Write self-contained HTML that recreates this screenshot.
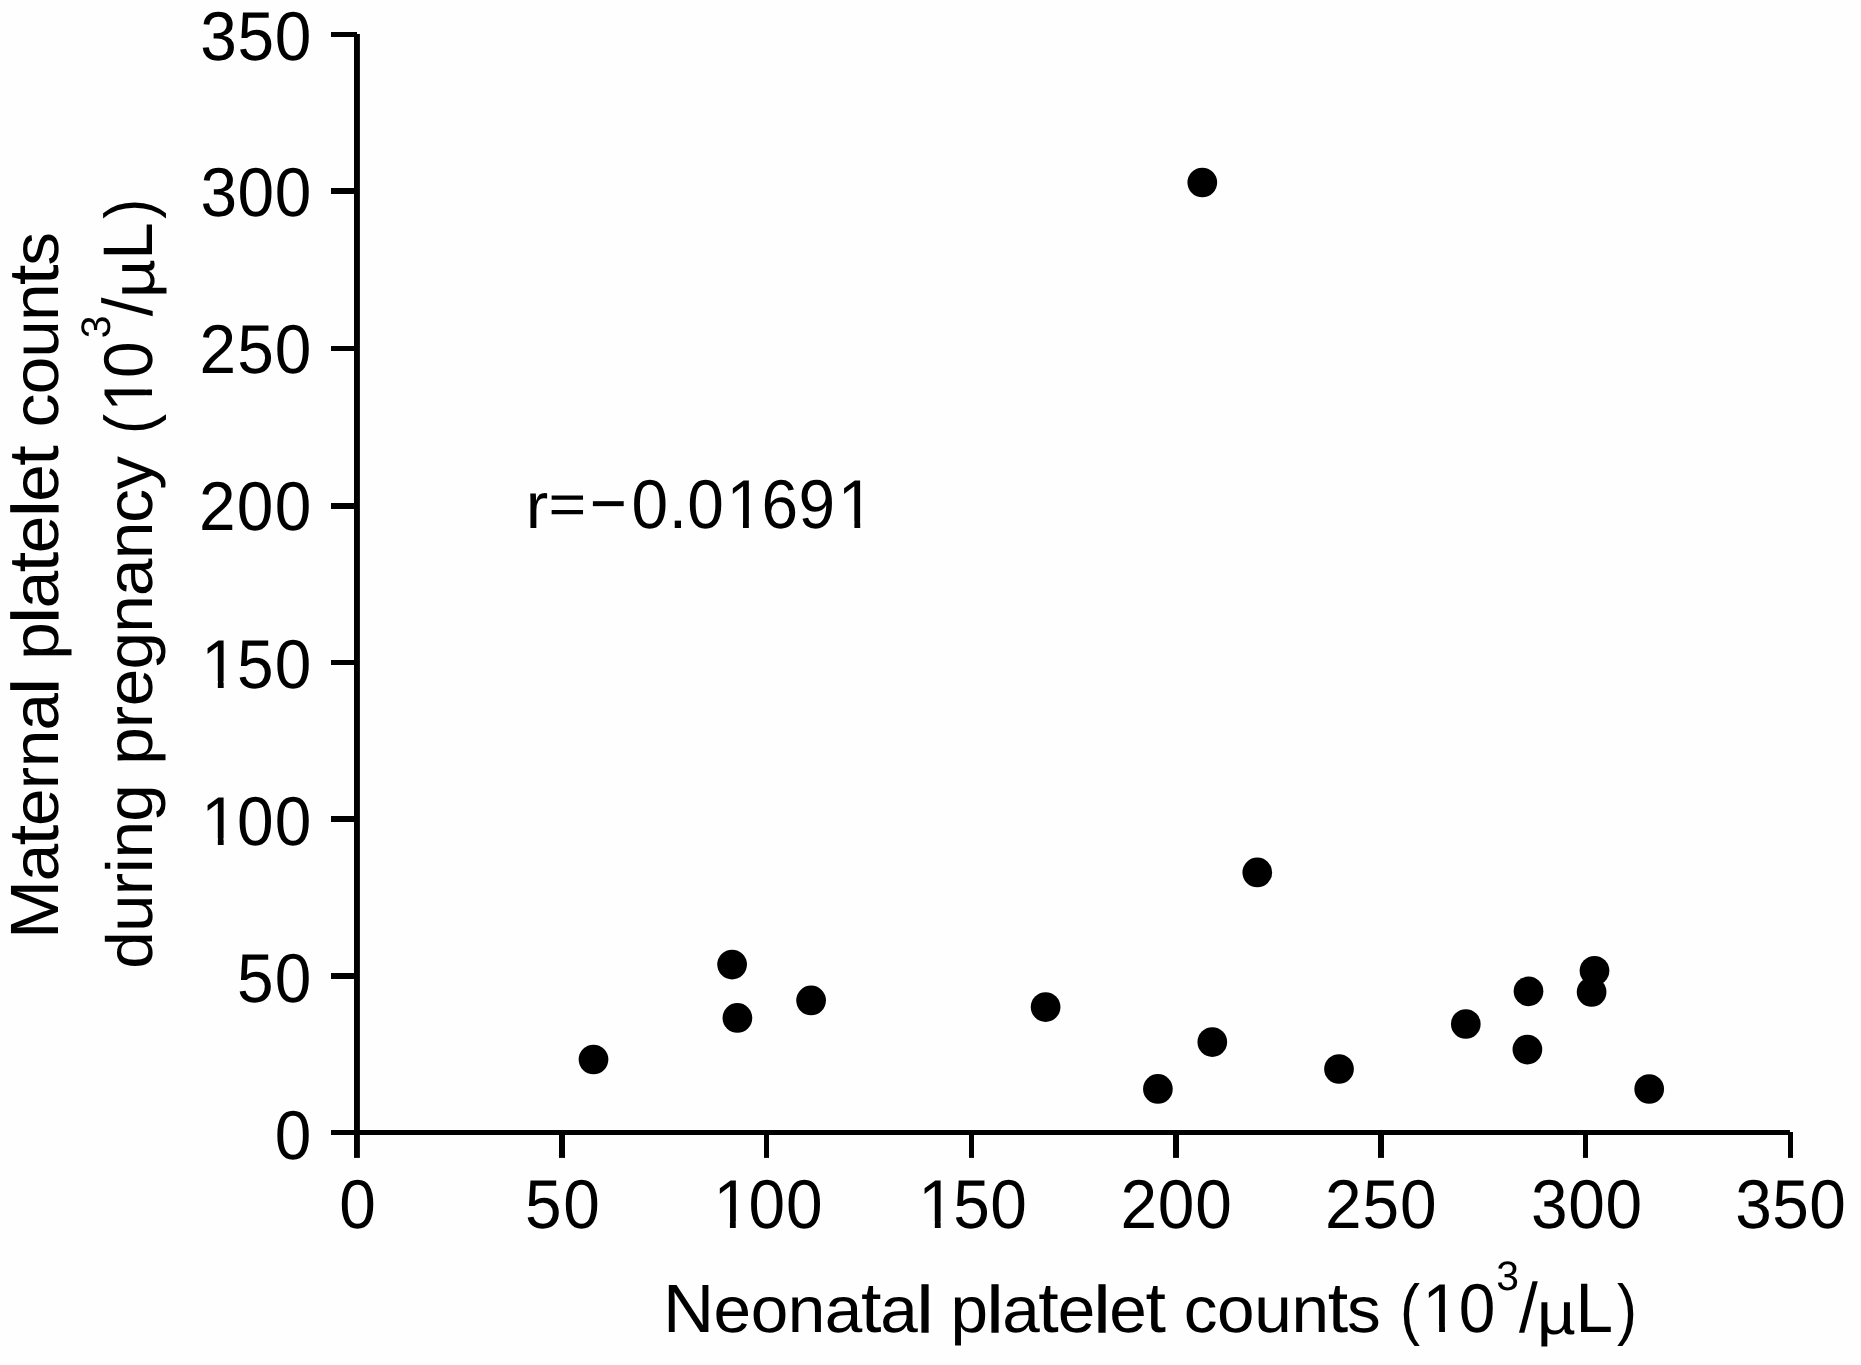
<!DOCTYPE html>
<html><head><meta charset="utf-8"><title>Maternal vs neonatal platelet counts</title><style>
html,body{margin:0;padding:0;background:#fefefe;overflow:hidden;}
svg{display:block;filter:grayscale(100%);}
text{font-family:"Liberation Sans",sans-serif;fill:#000;text-rendering:geometricPrecision;}
</style></head><body>
<svg width="1861" height="1365" viewBox="0 0 1861 1365">
<defs><clipPath id="c0"><path clip-rule="evenodd" d="M-2000 -2000H4000V2000H-2000ZM-2.50 -6.59H11.83V1.32H-2.50ZM17.80 -6.59H30.45V1.32H17.80Z"/></clipPath><clipPath id="c1"><path clip-rule="evenodd" d="M-2000 -2000H4000V2000H-2000ZM-2.50 -6.59H11.83V1.32H-2.50ZM17.80 -6.59H30.45V1.32H17.80Z"/></clipPath><clipPath id="c2"><path clip-rule="evenodd" d="M-2000 -2000H4000V2000H-2000ZM-2.50 -6.59H11.83V1.32H-2.50ZM17.80 -6.59H30.45V1.32H17.80Z"/></clipPath><clipPath id="c3"><path clip-rule="evenodd" d="M-2000 -2000H4000V2000H-2000ZM-2.50 -6.59H11.83V1.32H-2.50ZM17.80 -6.59H30.45V1.32H17.80Z"/></clipPath><clipPath id="c4"><path clip-rule="evenodd" d="M-2000 -2000H4000V2000H-2000ZM97.37 -6.59H111.71V1.32H97.37ZM117.68 -6.59H130.33V1.32H117.68ZM211.59 -6.59H225.93V1.32H211.59ZM231.90 -6.59H244.55V1.32H231.90Z"/></clipPath><clipPath id="c5"><path clip-rule="evenodd" d="M-2000 -2000H4000V2000H-2000ZM-2.50 -6.59H11.83V1.32H-2.50ZM17.80 -6.59H30.45V1.32H17.80Z"/></clipPath><clipPath id="c6"><path clip-rule="evenodd" d="M-2000 -2000H4000V2000H-2000ZM-2.50 -6.59H11.83V1.32H-2.50ZM17.80 -6.59H30.45V1.32H17.80Z"/></clipPath></defs>
<rect x="0" y="0" width="1861" height="1365" fill="#fefefe"/>
<rect x="354" y="34" width="5.9" height="1123.9" fill="#000"/>
<rect x="354" y="1130" width="1435.9" height="5" fill="#000"/>
<rect x="331" y="32" width="26" height="5" fill="#000"/>
<rect x="331" y="188" width="26" height="6" fill="#000"/>
<rect x="331" y="346" width="26" height="5" fill="#000"/>
<rect x="331" y="503" width="26" height="6" fill="#000"/>
<rect x="331" y="660" width="26" height="5" fill="#000"/>
<rect x="331" y="816" width="26" height="6" fill="#000"/>
<rect x="331" y="973" width="26" height="6" fill="#000"/>
<rect x="331" y="1130" width="26" height="5" fill="#000"/>
<rect x="559" y="1132" width="6" height="25.9" fill="#000"/>
<rect x="764" y="1132" width="5" height="25.9" fill="#000"/>
<rect x="969" y="1132" width="5" height="25.9" fill="#000"/>
<rect x="1173" y="1132" width="6" height="25.9" fill="#000"/>
<rect x="1378" y="1132" width="6" height="25.9" fill="#000"/>
<rect x="1583" y="1132" width="5" height="25.9" fill="#000"/>
<rect x="1788" y="1132" width="5" height="25.9" fill="#000"/>
<circle cx="593.5" cy="1059.5" r="14.85" fill="#000"/>
<circle cx="732.1" cy="964.6" r="14.85" fill="#000"/>
<circle cx="737.4" cy="1017.9" r="14.85" fill="#000"/>
<circle cx="811.1" cy="1000.4" r="14.85" fill="#000"/>
<circle cx="1045.6" cy="1007.1" r="14.85" fill="#000"/>
<circle cx="1157.9" cy="1088.9" r="14.85" fill="#000"/>
<circle cx="1202.3" cy="182.5" r="14.85" fill="#000"/>
<circle cx="1212.3" cy="1042.1" r="14.85" fill="#000"/>
<circle cx="1257.3" cy="872.4" r="14.85" fill="#000"/>
<circle cx="1339" cy="1069" r="14.85" fill="#000"/>
<circle cx="1465.8" cy="1024" r="14.85" fill="#000"/>
<circle cx="1528.5" cy="991.3" r="14.85" fill="#000"/>
<circle cx="1527.4" cy="1049.6" r="14.85" fill="#000"/>
<circle cx="1594.5" cy="970.8" r="14.85" fill="#000"/>
<circle cx="1591.6" cy="992" r="14.85" fill="#000"/>
<circle cx="1649.2" cy="1089" r="14.85" fill="#000"/>
<g transform="translate(277.40,1159.10) scale(0.975,1.022)"><text x="-2.64" y="0" style="font-family:'Liberation Sans';font-size:67.5px">0</text></g>
<g transform="translate(239.70,1002.05) scale(0.975,1.022)"><text x="-2.70 35.87" y="0" style="font-family:'Liberation Sans';font-size:67.5px">50</text></g>
<g transform="translate(206.30,844.80) scale(0.975,1.022)"><text x="-5.14 31.39 70.12" y="0" style="font-family:'Liberation Sans';font-size:67.5px" clip-path="url(#c0)">100</text></g>
<g transform="translate(206.30,687.80) scale(0.975,1.022)"><text x="-5.14 31.39 70.12" y="0" style="font-family:'Liberation Sans';font-size:67.5px" clip-path="url(#c1)">150</text></g>
<g transform="translate(202.30,530.45) scale(0.975,1.022)"><text x="-3.39 35.41 74.22" y="0" style="font-family:'Liberation Sans';font-size:67.5px">200</text></g>
<g transform="translate(202.90,373.40) scale(0.975,1.022)"><text x="-3.39 35.11 73.61" y="0" style="font-family:'Liberation Sans';font-size:67.5px">250</text></g>
<g transform="translate(202.90,216.00) scale(0.975,1.022)"><text x="-2.57 35.52 73.61" y="0" style="font-family:'Liberation Sans';font-size:67.5px">300</text></g>
<g transform="translate(202.70,59.50) scale(0.975,1.022)"><text x="-2.57 35.62 73.81" y="0" style="font-family:'Liberation Sans';font-size:67.5px">350</text></g>
<g transform="translate(341.90,1228.20) scale(0.975,1.022)"><text x="-2.64" y="0" style="font-family:'Liberation Sans';font-size:67.5px">0</text></g>
<g transform="translate(527.70,1228.20) scale(0.975,1.022)"><text x="-2.70 36.48" y="0" style="font-family:'Liberation Sans';font-size:67.5px">50</text></g>
<g transform="translate(718.40,1228.20) scale(0.975,1.022)"><text x="-5.14 30.98 69.30" y="0" style="font-family:'Liberation Sans';font-size:67.5px" clip-path="url(#c2)">100</text></g>
<g transform="translate(923.30,1228.20) scale(0.975,1.022)"><text x="-5.14 30.72 68.79" y="0" style="font-family:'Liberation Sans';font-size:67.5px" clip-path="url(#c3)">150</text></g>
<g transform="translate(1123.70,1228.20) scale(0.975,1.022)"><text x="-3.39 34.95 73.30" y="0" style="font-family:'Liberation Sans';font-size:67.5px">200</text></g>
<g transform="translate(1328.20,1228.20) scale(0.975,1.022)"><text x="-3.39 35.16 73.71" y="0" style="font-family:'Liberation Sans';font-size:67.5px">250</text></g>
<g transform="translate(1533.40,1228.20) scale(0.975,1.022)"><text x="-2.57 35.67 73.92" y="0" style="font-family:'Liberation Sans';font-size:67.5px">300</text></g>
<g transform="translate(1737.70,1228.20) scale(0.975,1.022)"><text x="-2.57 35.37 73.30" y="0" style="font-family:'Liberation Sans';font-size:67.5px">350</text></g>
<g transform="translate(530.20,528.10) scale(1.0,0.965)"><text x="-4.48" y="0" style="font-family:'Liberation Sans';font-size:67.5px">r</text></g>
<g transform="translate(551.70,523.75) scale(0.957,0.86)"><text x="-3.30" y="0" style="font-family:'Liberation Sans';font-size:67.5px">=</text></g>
<g transform="translate(593.00,527.30) scale(0.94,1.04)"><text x="-3.33" y="0" style="font-family:'Liberation Sans';font-size:67.5px">−</text></g>
<g transform="translate(634.10,528.30) scale(0.975,1.022)"><text x="-2.64 35.44 54.46 94.74 130.60 168.68 208.96" y="0" style="font-family:'Liberation Sans';font-size:67.5px" clip-path="url(#c4)">0.01691</text></g>
<g transform="translate(668.90,1332.10) scale(1.0,0.965)"><text x="-5.81 44.71 81.77 118.83 155.89 192.08 211.46 248.52" y="0" style="font-family:'Liberation Sans';font-size:67.5px"><tspan style="font-size:70.88px">N</tspan>eona<tspan style="font-size:73.58px">t</tspan>a<tspan style="stroke:#000;stroke-width:1.3px">l</tspan></text></g>
<g transform="translate(954.80,1332.10) scale(1.0,0.965)"><text x="-4.35 32.62 47.39 83.49 102.83 139.80 154.57 190.67" y="0" style="font-family:'Liberation Sans';font-size:67.5px">p<tspan style="stroke:#000;stroke-width:1.3px">l</tspan>a<tspan style="font-size:73.58px">t</tspan>e<tspan style="stroke:#000;stroke-width:1.3px">l</tspan>e<tspan style="font-size:73.58px">t</tspan></text></g>
<g transform="translate(1186.60,1332.10) scale(1.0,0.965)"><text x="-2.87 30.52 67.66 104.80 141.07 160.49" y="0" style="font-family:'Liberation Sans';font-size:67.5px">coun<tspan style="font-size:73.58px">t</tspan>s</text></g>
<g transform="translate(1403.70,1332.10) scale(0.89,1.0)"><text x="-4.19" y="0" style="font-family:'Liberation Sans';font-size:67.5px">(</text></g>
<g transform="translate(1427.60,1332.10) scale(0.975,1.022)"><text x="-5.14 31.97" y="0" style="font-family:'Liberation Sans';font-size:67.5px" clip-path="url(#c5)">10</text></g>
<g transform="translate(1497.80,1289.60) scale(1.01,1.02)"><text x="-1.54" y="0" style="font-family:'Liberation Sans';font-size:40.5px">3</text></g>
<g transform="translate(1518.90,1332.10) scale(1.0,1.04)"><text x="0.00" y="0" style="font-family:'Liberation Sans';font-size:67.5px">/</text></g>
<g transform="translate(1541.40,1334.00) scale(1.006,0.893)"><text x="-4.61" y="0" style="font-family:'Liberation Sans';font-size:67.5px">µ</text></g>
<g transform="translate(1581.10,1332.10) scale(1.0,1.04)"><text x="-5.54" y="0" style="font-family:'Liberation Sans';font-size:67.5px">L</text></g>
<g transform="translate(1617.30,1332.10) scale(0.89,1.0)"><text x="-0.40" y="0" style="font-family:'Liberation Sans';font-size:67.5px">)</text></g>
<g transform="translate(57.90,933.10) rotate(-90) scale(1.0,0.965)"><text x="-5.81 51.95 87.82 107.03 143.76 165.76 202.49 239.22" y="0" style="font-family:'Liberation Sans';font-size:67.5px"><tspan style="font-size:70.88px">M</tspan>a<tspan style="font-size:73.58px">t</tspan>erna<tspan style="stroke:#000;stroke-width:1.3px">l</tspan></text></g>
<g transform="translate(57.90,655.40) rotate(-90) scale(1.0,0.965)"><text x="-4.35 32.43 47.13 83.04 102.28 139.06 153.76 189.67" y="0" style="font-family:'Liberation Sans';font-size:67.5px">p<tspan style="stroke:#000;stroke-width:1.3px">l</tspan>a<tspan style="font-size:73.58px">t</tspan>e<tspan style="stroke:#000;stroke-width:1.3px">l</tspan>e<tspan style="font-size:73.58px">t</tspan></text></g>
<g transform="translate(57.90,424.50) rotate(-90) scale(1.0,0.965)"><text x="-2.87 30.15 66.88 103.61 139.47 158.69" y="0" style="font-family:'Liberation Sans';font-size:67.5px">coun<tspan style="font-size:73.58px">t</tspan>s</text></g>
<g transform="translate(152.20,966.00) rotate(-90) scale(1.0,0.965)"><text x="-2.83 33.97 70.77 92.81 107.51 144.31" y="0" style="font-family:'Liberation Sans';font-size:67.5px">during</text></g>
<g transform="translate(152.20,760.50) rotate(-90) scale(1.0,0.965)"><text x="-4.35 32.36 54.34 91.05 127.75 164.46 201.17 237.88 270.88" y="0" style="font-family:'Liberation Sans';font-size:67.5px">pregnancy</text></g>
<g transform="translate(152.20,430.20) rotate(-90) scale(0.89,1.0)"><text x="-4.19" y="0" style="font-family:'Liberation Sans';font-size:67.5px">(</text></g>
<g transform="translate(152.20,406.80) rotate(-90) scale(0.975,1.022)"><text x="-5.14 29.51" y="0" style="font-family:'Liberation Sans';font-size:67.5px" clip-path="url(#c6)">10</text></g>
<g transform="translate(109.90,336.80) rotate(-90) scale(1.01,1.02)"><text x="-1.54" y="0" style="font-family:'Liberation Sans';font-size:40.5px">3</text></g>
<g transform="translate(152.20,316.20) rotate(-90) scale(1.0,1.04)"><text x="0.00" y="0" style="font-family:'Liberation Sans';font-size:67.5px">/</text></g>
<g transform="translate(154.10,293.70) rotate(-90) scale(1.006,0.893)"><text x="-4.61" y="0" style="font-family:'Liberation Sans';font-size:67.5px">µ</text></g>
<g transform="translate(152.20,254.20) rotate(-90) scale(1.0,1.04)"><text x="-5.54" y="0" style="font-family:'Liberation Sans';font-size:67.5px">L</text></g>
<g transform="translate(152.20,218.30) rotate(-90) scale(0.89,1.0)"><text x="-0.40" y="0" style="font-family:'Liberation Sans';font-size:67.5px">)</text></g>
</svg>
</body></html>
